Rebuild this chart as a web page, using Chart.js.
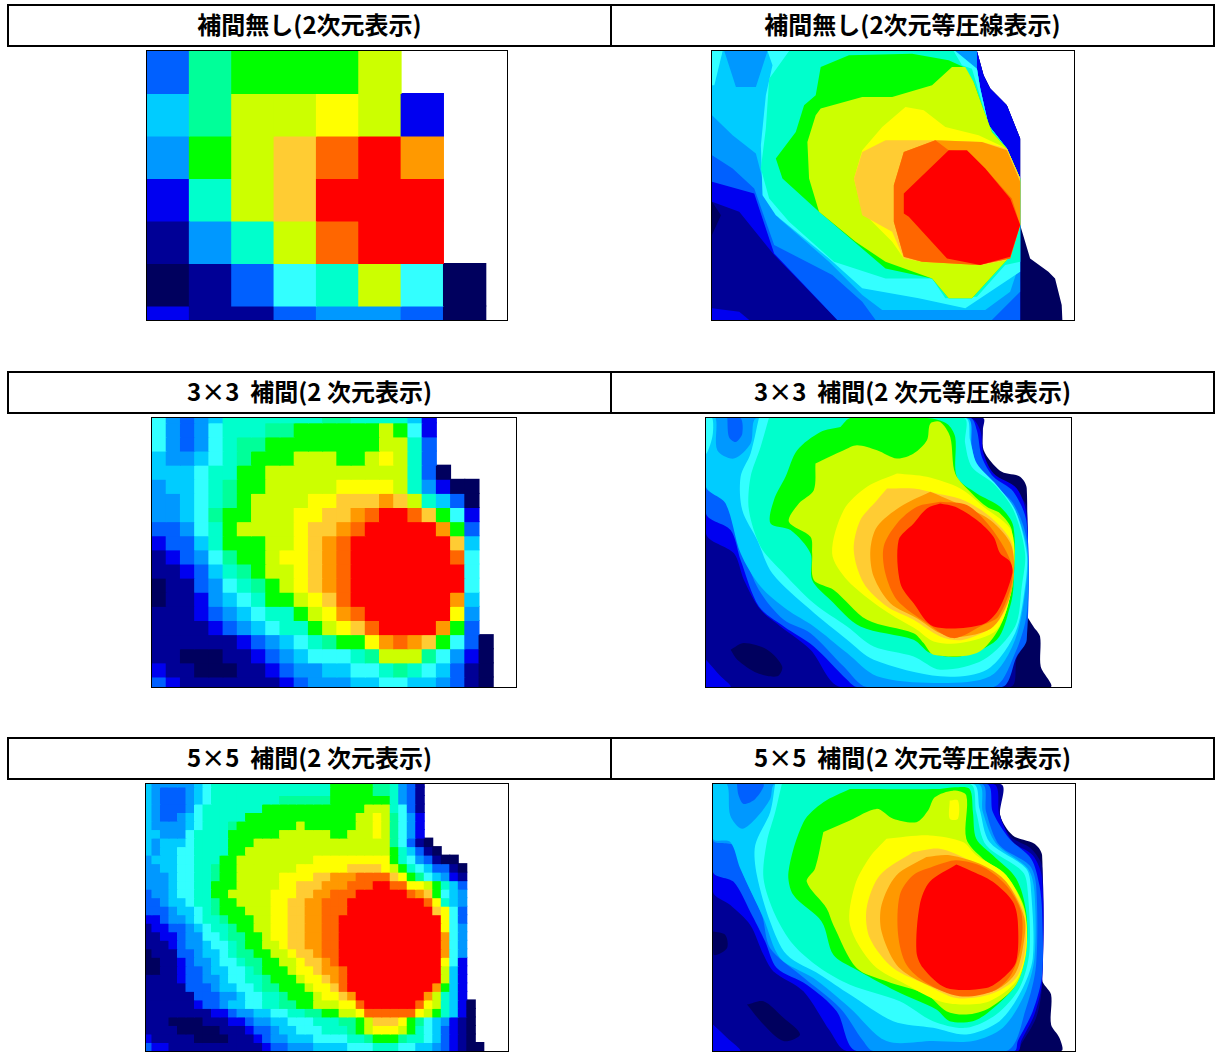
<!DOCTYPE html>
<html lang="ja">
<head>
<meta charset="utf-8">
<title>補間</title>
<script src="https://cdn.jsdelivr.net/npm/chart.js@4/dist/chart.umd.min.js"></script>
<style>
html, body { margin: 0; padding: 0; background: #fff; }
body { position: relative; width: 1216px; height: 1052px; overflow: hidden; font-family: "Noto Sans CJK JP", sans-serif; }
.head { position: absolute; box-sizing: border-box; height: 43px; border: 2px solid #000; font-weight: 700; font-size: 24px; line-height: 36px; text-align: center; color: #000; white-space: pre; }
.frame { position: absolute; box-sizing: border-box; border: 1px solid #000; }
canvas { display: block; }
</style>
</head>
<body>
<script>
// colour steps of the pressure scale, low to high
const levelColors = {
    '0': '#00005e', '1': '#000096', '2': '#0000f0', '3': '#0060ff',
    '4': '#0098ff', '5': '#00ccff', '6': '#33ffff', '7': '#00ffcc',
    '8': '#00ff99', '9': '#00ff00', 'a': '#ccff00', 'b': '#ffff00',
    'c': '#ffcc33', 'd': '#ff9900', 'e': '#ff6600', 'f': '#ff0000',
    '.': 'rgba(0,0,0,0)'
};

const headTitles = [
    ['補間無し(2次元表示)', '補間無し(2次元等圧線表示)'],
    ['3×3  補間(2 次元表示)', '3×3  補間(2 次元等圧線表示)'],
    ['5×5  補間(2 次元表示)', '5×5  補間(2 次元等圧線表示)']
];

// one character per sensor cell, top row first
const rawCells = [
    '38999a...',
    '58aaba2..',
    '49acefd..',
    '27acfff..',
    '147aeff..',
    '01367a60.',
    '21134430.'
];

const cells3x3 = [
    '64345777777788777752',
    '6434677788999999a962',
    '6434678899999999aa73',
    '5445678999aaa99aba73',
    '55567799aaaaaaaaaa730',
    '45567899aaaaabbbba74200',
    '4456789aaaabbcccdca7530',
    '4456899aaabbccdeffec962',
    '334679aaaabccdefffffd93',
    '23357999aabcdefffffffc5',
    '12346899abbcdefffffffe6',
    '11235789aabcdeffffffff6',
    '011346789abcdeffffffff6',
    '0112456799abcefffffffd5',
    '11123456779abdeffffffb4',
    '111123456779abceffffd93',
    '111111234567899bdedc9630',
    '1100011234566678aaa86420',
    '211000112344556678765310',
    '321111111234445566554310'
];

const cells5x5 = [
    '544444567777777777777799999887431',
    '543334567777777777777799999887431',
    '543334567777777788888899999997431',
    '54333467777777999999999999aaa7631',
    '5433456777779999999999999aaba8642',
    '544445677789999999a999999aaba8642',
    '5544467777999999aaaaaa99aaaba8642',
    '5455567777999aaaaaaaaaaaaaaaa86310',
    '545566777799aaaaaaaaaaaaaaaaa975310',
    '45556677799aaaaaaaaabbbbbbbbb97643100',
    '44556677899aaaaaaabbbbbbccccba97653310',
    '44456677899aaaaabbbbccdddeeeecb9865421',
    '44456677999aaaaabbcccdddeeeffeebba9753',
    '3445667799aaaaabbbccddeeeffffffedc9654',
    '33455677899aaaabbccddeeefffffffffeb754',
    '333455678999aaabbccddeeeffffffffffcb63',
    '2234456778999aabbccddeeffffffffffffb63',
    '1223345677899aabbccddeeffffffffffffb64',
    '11223446678899abbccddeeffffffffffffd64',
    '11123445667899aabccddeeffffffffffffd64',
    '011133455678899aabccdeeffffffffffffd64',
    '0011234456678899aabccdeffffffffffffb62',
    '00112334556678999abbcddefffffffffffa52',
    '111123344566778999abbcdefffffffffffa52',
    '1111133345566788999abbceffffffffffd952',
    '11111133344566778999abbcdffffffffda752',
    '11111123345566778899aaabbeffffffeba7520',
    '11111111223445566778899aabeeeeeeba97520',
    '11100001112234455666777889acccb98654210',
    '11110000011123345566677789abbba97653210',
    '211111000011123445556666778999877653210',
    '3221111111111123344455556667776655432100'
];

// pressure contours, [level, [x, y, x, y ...]], lowest level first, in sensor units
const rawContours = [
    ['0', [815,17, 835,90, 855,130, 905,180, 945,280, 945,540, 975,640, 1030,680, 1050,700, 1070,780, 1072,825, 18,825, 18,17]],
    ['1', [18,825, 18,570, 45,510, 18,470, 18,17, 815,17, 835,90, 855,130, 905,180, 945,280, 945,825]],
    ['2', [18,17, 815,17, 835,90, 855,130, 905,180, 945,280, 945,825, 395,825, 205,630, 100,500, 18,470]],
    ['2', [18,790, 100,800, 130,825, 18,825]],
    ['3', [18,17, 815,17, 815,70, 825,130, 850,240, 905,310, 945,400, 945,825, 395,825, 205,625, 145,445, 18,410]],
    ['4', [18,17, 815,17, 815,70, 825,130, 850,240, 905,310, 945,400, 945,740, 860,825, 510,825, 470,770, 380,690, 205,600, 145,430, 80,370, 18,330]],
    ['5', [18,17, 55,17, 90,125, 150,125, 185,17, 750,17, 815,70, 825,130, 850,240, 905,310, 945,400, 945,650, 915,740, 840,795, 530,795, 470,750, 370,650, 220,520, 180,440, 150,325, 80,270, 18,210]],
    ['6', [185,17, 750,17, 815,70, 825,130, 850,240, 905,310, 945,400, 945,680, 780,790, 640,760, 470,730, 370,640, 210,510, 170,450, 165,300, 180,150, 200,60]],
    ['6', [18,17, 50,17, 25,120, 18,120]],
    ['7', [250,17, 745,17, 770,60, 800,70, 830,170, 850,240, 905,310, 945,400, 945,650, 900,660, 815,755, 720,760, 680,700, 540,700, 385,650, 250,530, 190,460, 165,370, 180,250, 190,100]],
    ['9', [345,65, 430,30, 620,25, 730,45, 775,65, 805,110, 830,180, 860,260, 905,310, 945,400, 945,540, 905,645, 800,760, 730,760, 680,700, 540,670, 340,500, 230,400, 210,340, 270,260, 295,180, 330,150]],
    ['a', [345,190, 470,155, 560,155, 680,120, 740,65, 780,65, 805,110, 830,180, 860,260, 905,310, 945,400, 945,540, 905,645, 800,760, 730,760, 680,700, 540,650, 450,590, 340,500, 310,400, 305,290, 330,210]],
    ['b', [600,185, 655,195, 720,245, 820,270, 905,310, 945,400, 945,540, 905,645, 820,660, 650,650, 595,640, 560,590, 470,500, 445,400, 470,315, 530,245]],
    ['c', [470,320, 540,285, 690,285, 830,290, 905,310, 945,400, 945,540, 905,645, 830,660, 650,650, 595,640, 560,560, 470,510, 445,400]],
    ['d', [595,320, 690,285, 830,290, 905,315, 945,410, 945,540, 915,640, 820,660, 650,650, 595,635, 565,530, 565,420]],
    ['e', [595,320, 690,285, 730,315, 790,320, 840,370, 920,460, 945,540, 915,640, 820,660, 650,650, 595,635, 565,530, 565,420]],
    ['f', [730,315, 785,315, 840,370, 915,460, 945,540, 915,635, 825,660, 725,640, 610,515, 595,505, 595,445]]
];

const contours3x3 = [
    ['0', [848,13, 848,100, 865,135, 905,175, 960,190, 980,225, 980,600, 1000,640, 1020,670, 1022,760, 1050,822, 16,822, 16,13]],
    ['1', [16,13, 848,13, 848,50, 850,130, 890,190, 950,240, 980,280, 980,600, 975,690, 950,735, 930,822, 16,822]],
    ['0', [90,710, 130,690, 200,710, 245,760, 230,790, 170,780, 110,740]],
    ['2', [16,13, 810,13, 840,50, 850,120, 880,180, 950,225, 980,310, 980,640, 950,700, 900,822, 420,822, 330,710, 240,640, 180,590, 130,500, 100,420, 16,360]],
    ['2', [16,740, 60,790, 90,822, 16,822]],
    ['3', [16,13, 810,13, 830,50, 845,130, 880,190, 940,235, 980,330, 980,680, 950,730, 905,822, 470,822, 440,800, 340,700, 250,640, 175,580, 120,440, 90,350, 16,300]],
    ['4', [16,13, 790,13, 810,100, 830,170, 880,215, 940,270, 980,380, 980,600, 945,720, 880,822, 500,822, 430,760, 330,660, 250,620, 175,530, 130,420, 100,340, 75,260, 16,220]],
    ['3', [80,13, 120,13, 125,60, 105,85, 85,70]],
    ['5', [16,13, 45,13, 50,110, 100,135, 150,90, 170,13, 800,13, 815,100, 835,170, 890,225, 940,280, 980,400, 980,500, 945,680, 870,790, 700,810, 530,790, 440,720, 340,640, 260,590, 180,520, 120,420, 75,270, 16,220]],
    ['6', [175,13, 795,13, 810,80, 830,150, 890,215, 945,290, 980,420, 975,520, 945,660, 860,770, 720,790, 520,740, 440,680, 330,590, 215,480, 170,380, 125,290, 120,190, 150,120]],
    ['6', [16,13, 35,13, 35,70, 16,120]],
    ['7', [205,13, 790,13, 795,90, 815,160, 880,210, 940,290, 975,420, 965,520, 945,640, 850,740, 720,770, 640,730, 520,700, 440,640, 340,570, 240,470, 180,400, 145,290, 150,190, 180,100]],
    ['9', [420,40, 450,13, 680,13, 740,30, 765,70, 770,190, 830,240, 900,280, 940,340, 940,520, 930,580, 890,680, 780,730, 690,720, 640,680, 480,640, 390,560, 335,500, 330,420, 270,350, 210,330, 220,260, 255,190, 290,110, 360,55]],
    ['a', [345,150, 430,110, 470,95, 530,110, 590,135, 640,120, 680,80, 690,30, 720,25, 750,70, 765,180, 815,240, 860,280, 900,300, 935,350, 935,520, 900,640, 830,720, 700,725, 670,690, 640,660, 500,620, 400,530, 340,500, 335,420, 330,370, 265,325, 295,270, 340,230]],
    ['b', [590,180, 680,190, 780,225, 850,280, 935,355, 935,520, 890,650, 780,690, 700,685, 650,650, 550,590, 440,500, 395,420, 430,290, 500,220]],
    ['c', [560,225, 640,225, 710,240, 790,260, 870,310, 935,390, 935,530, 890,630, 790,680, 720,670, 640,620, 560,580, 490,510, 460,410, 480,320, 530,260]],
    ['d', [690,235, 760,265, 870,320, 935,400, 935,530, 880,640, 790,670, 720,660, 650,615, 570,570, 520,490, 510,410, 530,340, 600,280]],
    ['e', [720,265, 800,275, 870,340, 930,440, 935,510, 895,610, 850,635, 760,675, 680,630, 590,560, 555,480, 550,400, 590,330, 650,280]],
    ['f', [720,270, 765,280, 830,320, 880,370, 900,420, 930,445, 937,480, 895,590, 845,635, 700,640, 640,570, 600,510, 595,380, 640,330, 680,285]]
];

const contours5x5 = [
    ['0', [882,15, 882,110, 920,170, 985,195, 1008,230, 1008,605, 1035,650, 1035,740, 1060,780, 1065,820, 18,820, 18,15]],
    ['1', [18,15, 882,15, 882,110, 915,175, 975,210, 1008,265, 1008,620, 990,720, 945,800, 935,820, 18,820]],
    ['0', [120,680, 170,670, 230,720, 280,770, 230,790, 170,740]],
    ['0', [18,460, 55,470, 60,510, 20,530]],
    ['2', [18,15, 860,15, 880,110, 920,190, 980,230, 1008,300, 1008,610, 985,710, 945,790, 935,820, 420,820, 370,760, 290,640, 200,580, 170,530, 130,440, 70,380, 18,340]],
    ['2', [18,740, 60,780, 100,820, 18,820]],
    ['3', [18,15, 840,15, 860,100, 910,180, 975,240, 1000,320, 1008,400, 1008,590, 980,700, 935,790, 925,820, 450,820, 390,700, 300,620, 210,570, 175,490, 130,400, 80,310, 18,280]],
    ['4', [18,15, 825,15, 840,100, 880,200, 970,260, 990,320, 990,560, 960,690, 900,820, 500,820, 470,790, 400,690, 280,590, 190,510, 165,410, 110,290, 80,200, 18,185]],
    ['3', [90,15, 170,15, 145,60, 110,75, 95,50]],
    ['5', [18,15, 60,15, 70,110, 105,150, 150,115, 190,60, 205,15, 815,15, 830,100, 870,195, 965,270, 985,340, 985,540, 955,650, 890,750, 800,790, 680,790, 540,790, 430,690, 320,600, 220,540, 170,420, 100,270, 70,190, 18,180]],
    ['6', [205,15, 800,15, 820,90, 850,190, 960,270, 975,340, 980,540, 945,640, 880,730, 780,770, 680,750, 560,730, 430,650, 340,590, 240,530, 190,430, 150,290, 145,200, 190,100]],
    ['7', [225,15, 790,15, 810,100, 840,200, 950,280, 965,340, 970,520, 940,630, 870,710, 780,750, 680,730, 580,670, 430,620, 340,570, 260,500, 205,410, 170,300, 180,190, 205,100]],
    ['9', [430,30, 700,30, 745,25, 790,30, 800,100, 810,180, 860,230, 930,300, 960,400, 960,520, 930,620, 850,700, 800,730, 730,730, 690,695, 570,640, 440,570, 380,530, 345,430, 260,350, 245,280, 290,130, 350,70]],
    ['a', [350,160, 430,125, 510,90, 560,120, 630,130, 665,95, 685,55, 740,35, 780,50, 780,180, 830,240, 900,290, 955,390, 960,520, 930,620, 850,690, 780,710, 720,700, 660,650, 540,610, 450,570, 380,440, 360,390, 300,310, 325,270]],
    ['b', [730,65, 755,65, 755,120, 730,120]],
    ['b', [540,180, 670,170, 770,190, 810,230, 900,290, 955,400, 960,520, 930,610, 850,670, 770,680, 700,670, 600,620, 500,560, 430,440, 445,320, 490,235]],
    ['c', [620,220, 700,210, 790,245, 880,290, 950,390, 958,510, 930,600, 850,650, 750,660, 660,620, 560,570, 490,480, 480,390, 520,290]],
    ['d', [660,235, 730,230, 830,260, 900,310, 955,420, 950,510, 925,590, 860,640, 750,650, 640,610, 570,560, 525,460, 525,380, 570,290]],
    ['e', [690,260, 750,245, 830,265, 900,320, 945,400, 945,500, 915,590, 860,640, 760,655, 660,615, 600,560, 575,470, 580,350, 620,290]],
    ['f', [750,258, 790,275, 860,310, 920,370, 935,430, 930,550, 890,600, 840,630, 720,630, 650,570, 630,520, 640,380, 670,310]]
];

function addHeads(rowIndex, top) {
    headTitles[rowIndex].forEach((text, i) => {
        const head = document.createElement('div');
        head.className = 'head';
        head.textContent = text;
        head.style.top = top + 'px';
        head.style.left = (i === 0 ? 7 : 610) + 'px';
        head.style.width = '605px';
        document.body.appendChild(head);
    });
}

function addCanvas(box) {
    const frame = document.createElement('div');
    frame.className = 'frame';
    frame.style.left = box.left + 'px';
    frame.style.top = box.top + 'px';
    frame.style.width = box.width + 'px';
    frame.style.height = box.height + 'px';
    const canvas = document.createElement('canvas');
    canvas.width = box.width - 2;
    canvas.height = box.height - 2;
    frame.appendChild(canvas);
    document.body.appendChild(frame);
    return canvas;
}

function chartOptions(xRange, yRange, stacked) {
    return {
        responsive: false,
        animation: false,
        events: [],
        layout: { padding: 0 },
        plugins: { legend: { display: false }, tooltip: { enabled: false } },
        scales: {
            x: { type: 'linear', display: false, offset: false, stacked, min: xRange[0], max: xRange[1] },
            y: { type: 'linear', display: false, reverse: true, stacked, beginAtZero: false, min: yRange[0], max: yRange[1] }
        }
    };
}

function drawCells(box, rows, xRange, yRange) {
    const columnCount = Math.max(...rows.map(row => row.length));
    const datasets = rows.map(row => {
        const cols = row.padEnd(columnCount, '.').split('');
        return {
            data: cols.map((c, i) => ({ x: i + 0.5, y: 1 })),
            backgroundColor: cols.map(c => levelColors[c]),
            borderWidth: 0,
            barPercentage: 1,
            categoryPercentage: 1,
            inflateAmount: 0.5
        };
    });
    new Chart(addCanvas(box), { type: 'bar', data: { datasets }, options: chartOptions(xRange, yRange, true) });
}

function drawContours(box, contours, xRange, yRange, tension) {
    // the first dataset ends up on top, so the highest level goes first
    const datasets = contours.slice().reverse().map(([level, flat]) => {
        const data = [];
        for (let i = 0; i < flat.length; i += 2) data.push({ x: flat[i], y: flat[i + 1] });
        data.push(data[0]);
        return {
            data,
            showLine: true,
            fill: 'shape',
            backgroundColor: levelColors[level],
            borderColor: levelColors[level],
            borderWidth: 0,
            pointRadius: 0,
            tension
        };
    });
    new Chart(addCanvas(box), { type: 'scatter', data: { datasets }, options: chartOptions(xRange, yRange, false) });
}

addHeads(0, 4);
addHeads(1, 371);
addHeads(2, 737);

drawCells({ left: 146, top: 50, width: 362, height: 271 }, rawCells, [0, 8.5], [0, 6.33]);
drawContours({ left: 711, top: 50, width: 364, height: 271 }, rawContours, [18, 1107], [17, 825], 0);
drawCells({ left: 151, top: 417, width: 366, height: 271 }, cells3x3, [0, 25.6], [0.66, 19.71]);
drawContours({ left: 705, top: 417, width: 367, height: 271 }, contours3x3, [16, 1113], [13, 822], 0.3);
drawCells({ left: 145, top: 783, width: 364, height: 269 }, cells5x5, [0.3, 42.84], [0.65, 32]);
drawContours({ left: 712, top: 783, width: 364, height: 269 }, contours5x5, [18, 1107], [15, 820], 0.3);
</script>
</body>
</html>
